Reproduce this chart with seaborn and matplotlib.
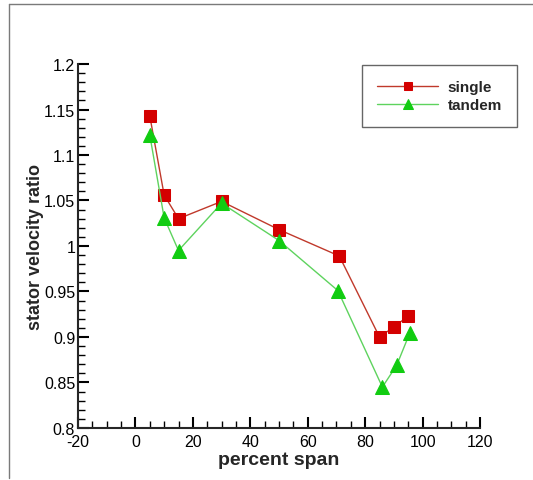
import matplotlib
matplotlib.use("Agg")
import matplotlib.pyplot as plt
from matplotlib.lines import Line2D
from matplotlib.ticker import MultipleLocator
import seaborn as sns
import pandas as pd

# data
single_span = [5, 10, 15, 30, 50, 71, 85, 90, 95]
single_ratio = [1.143, 1.056, 1.030, 1.049, 1.018, 0.989, 0.900, 0.911, 0.923]
tandem_span = [5, 10, 15, 30, 50, 70.5, 86, 91, 95.5]
tandem_ratio = [1.122, 1.031, 0.995, 1.047, 1.006, 0.951, 0.845, 0.869, 0.904]
series_names = ["single", "tandem"]
x_ticks = [-20, 0, 20, 40, 60, 80, 100, 120]
y_ticks = [0.8, 0.85, 0.9, 0.95, 1.0, 1.05, 1.1, 1.15, 1.2]
y_tick_labels = ["0.8", "0.85", "0.9", "0.95", "1", "1.05", "1.1", "1.15", "1.2"]

sns.set_style("ticks")
plt.rcParams["font.family"] = ["Liberation Sans", "DejaVu Sans"]

df_s = pd.DataFrame({"span": single_span, "ratio": single_ratio})
df_t = pd.DataFrame({"span": tandem_span, "ratio": tandem_ratio})

fig = plt.figure(figsize=(5.33, 4.81), dpi=100)
ax = fig.add_axes([78 / 533, 1 - 429 / 481, (480 - 78) / 533, (429 - 65) / 481])

sns.lineplot(data=df_s, x="span", y="ratio", ax=ax, color="#c0392b", linewidth=1.0,
             marker="s", markersize=8, markerfacecolor="#d40000",
             markeredgecolor="#d40000", sort=False, label=series_names[0], legend=False)
sns.lineplot(data=df_t, x="span", y="ratio", ax=ax, color="#5ed35e", linewidth=1.0,
             marker="^", markersize=9.5, markerfacecolor="#11cc11",
             markeredgecolor="#11cc11", sort=False, label=series_names[1], legend=False)

ax.set_xlim(-20, 120)
ax.set_ylim(0.8, 1.2)
ax.set_xticks(x_ticks)
ax.set_xticklabels([str(t) for t in x_ticks])
ax.set_yticks(y_ticks)
ax.set_yticklabels(y_tick_labels)
ax.xaxis.set_minor_locator(MultipleLocator(5))
ax.yaxis.set_minor_locator(MultipleLocator(0.01))
ax.tick_params(which="major", direction="in", length=8, width=1.5, labelsize=11.5,
               colors="black", pad=2)
ax.tick_params(which="minor", direction="in", length=5, width=1.0, colors="black")
ax.tick_params(axis="x", which="major", pad=4)
sns.despine(ax=ax)
ax.spines["left"].set_linewidth(1.5)
ax.spines["bottom"].set_linewidth(1.5)
ax.set_xlabel("percent span", fontsize=14, fontweight="bold", labelpad=2)
ax.set_ylabel("stator velocity ratio", fontsize=13, fontweight="bold")
ax.yaxis.set_label_coords(-34 / 402, 0.5)

handles, labels = ax.get_legend_handles_labels()
leg = fig.legend(handles, labels, loc="upper left",
                 bbox_to_anchor=(362 / 533, 1 - 66 / 481), bbox_transform=fig.transFigure,
                 frameon=True, fancybox=False, edgecolor="#666666", framealpha=1,
                 prop={"weight": "bold", "size": 11}, handlelength=4.0, markerscale=0.8,
                 handletextpad=0.6, borderpad=1.0, labelspacing=0.25, borderaxespad=0)
leg.get_frame().set_linewidth(1.0)

# outer frame lines
fig.add_artist(Line2D([9 / 533, 9 / 533], [0.005, 1 - 5 / 481], transform=fig.transFigure,
                      color="#7a7a7a", linewidth=1.0))
fig.add_artist(Line2D([9 / 533, 1.0], [1 - 5 / 481, 1 - 5 / 481], transform=fig.transFigure,
                      color="#7a7a7a", linewidth=1.0))

fig.savefig("out.png", dpi=100)
